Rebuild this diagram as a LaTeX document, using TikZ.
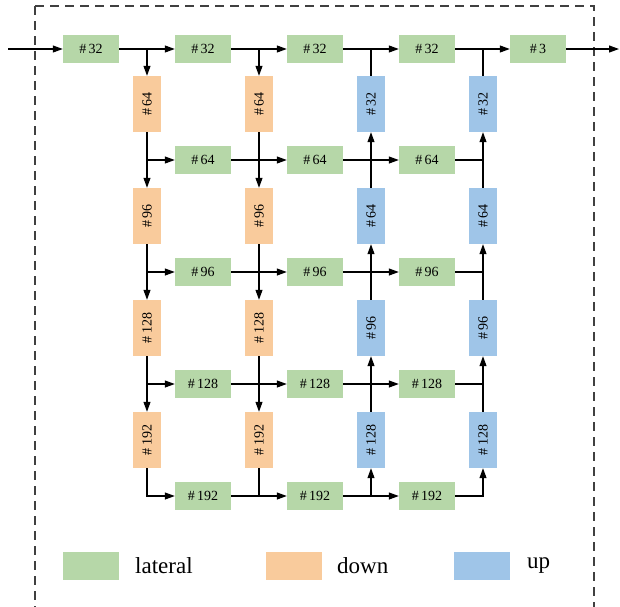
\documentclass[tikz,border=0pt]{standalone}
\usepackage{fontspec}
\setmainfont{Liberation Serif}
\usetikzlibrary{arrows.meta}
\definecolor{latg}{HTML}{B6D7A8}
\definecolor{downo}{HTML}{F9CB9C}
\definecolor{upb}{HTML}{9FC5E8}
\begin{document}
\begin{tikzpicture}[x=1pt,y=-1pt,
  >={Triangle[length=10pt,width=7pt]},
  conn/.style={line width=1.1pt},
  lat/.style={fill=latg, minimum width=56pt, minimum height=28pt, inner sep=0pt, font=\fontsize{14}{14}\selectfont},
  dwn/.style={fill=downo, minimum width=28pt, minimum height=56pt, inner sep=0pt, font=\fontsize{14}{14}\selectfont},
  upbox/.style={fill=upb, minimum width=28pt, minimum height=56pt, inner sep=0pt, font=\fontsize{14}{14}\selectfont},
  legbox/.style={minimum width=56pt, minimum height=28pt, inner sep=0pt},
  legtxt/.style={anchor=west, inner sep=0pt, font=\fontsize{23}{23}\selectfont},
  frame/.style={draw=black!75, line width=1.1pt, dash pattern=on 9pt off 6pt}
]
\useasboundingbox (0,0) rectangle (620,606);
\draw[frame] (35,6) -- (594,6) -- (594,620);
\draw[frame] (35,6) -- (35,620);

% top row
\node[lat] (t0) at (91,49) {\#\,32};
\node[lat] (t1) at (203,49) {\#\,32};
\node[lat] (t2) at (315,49) {\#\,32};
\node[lat] (t3) at (427,49) {\#\,32};
\node[lat] (t4) at (538,49) {\#\,3};
\coordinate (in) at (8,49);
\coordinate (out) at (619,49);

% lateral rows
\foreach \r/\y/\v in {1/160/64,2/272/96,3/384/128,4/496/192}{
  \node[lat] (a\r1) at (203,\y) {\#\,\v};
  \node[lat] (a\r2) at (315,\y) {\#\,\v};
  \node[lat] (a\r3) at (427,\y) {\#\,\v};
}
% down and up columns
\foreach \r/\y/\dv/\uv in {1/104/64/32,2/216/96/64,3/328/128/96,4/440/192/128}{
  \node[dwn] (d1\r) at (147,\y) {\rotatebox{90}{\#\,\dv}};
  \node[dwn] (d2\r) at (259,\y) {\rotatebox{90}{\#\,\dv}};
  \node[upbox] (u3\r) at (371,\y) {\rotatebox{90}{\#\,\uv}};
  \node[upbox] (u4\r) at (483,\y) {\rotatebox{90}{\#\,\uv}};
}

% top row connections
\draw[conn,->] (in) -- (t0.west);
\draw[conn,->] (t0.east) -- (t1.west);
\draw[conn,->] (t1.east) -- (t2.west);
\draw[conn,->] (t2.east) -- (t3.west);
\draw[conn,->] (t3.east) -- (t4.west);
\draw[conn,->] (t4.east) -- (out);

% down columns
\draw[conn,->] (d11 |- t0) -- (d11.north);
\draw[conn,->] (d21 |- t1) -- (d21.north);
\foreach \c in {1,2}{
  \draw[conn,->] (d\c1.south) -- (d\c2.north);
  \draw[conn,->] (d\c2.south) -- (d\c3.north);
  \draw[conn,->] (d\c3.south) -- (d\c4.north);
}
\draw[conn,->] (d11 |- a11) -- (a11.west);
\draw[conn,->] (d11 |- a21) -- (a21.west);
\draw[conn,->] (d11 |- a31) -- (a31.west);
\draw[conn,->] (d14.south) |- (a41.west);
\draw[conn] (d24.south) -- (d24 |- a41);

% lateral rows
\foreach \r in {1,2,3,4}{
  \draw[conn,->] (a\r1.east) -- (a\r2.west);
  \draw[conn,->] (a\r2.east) -- (a\r3.west);
}
\draw[conn] (a13.east) -- (u41 |- a13);
\draw[conn] (a23.east) -- (u41 |- a23);
\draw[conn] (a33.east) -- (u41 |- a33);
\draw[conn,->] (a43.east) -| (u44.south);

% up columns
\draw[conn] (u31.north) -- (u31 |- t2);
\draw[conn] (u41.north) -- (u41 |- t3);
\foreach \c in {3,4}{
  \draw[conn,->] (u\c2.north) -- (u\c1.south);
  \draw[conn,->] (u\c3.north) -- (u\c2.south);
  \draw[conn,->] (u\c4.north) -- (u\c3.south);
}
\draw[conn,->] (u34 |- a42) -- (u34.south);

% legend
\node[legbox, fill=latg] (lg) at (91,566) {};
\node[legtxt] (lgt) at (135,566) {lateral};
\node[legbox, fill=downo] (ld) at (294,566) {};
\node[legtxt] (ldt) at (337,566) {down};
\node[legbox, fill=upb] (lu) at (482,566) {};
\node[legtxt] (lut) at (527,566) {up};
\end{tikzpicture}
\end{document}
